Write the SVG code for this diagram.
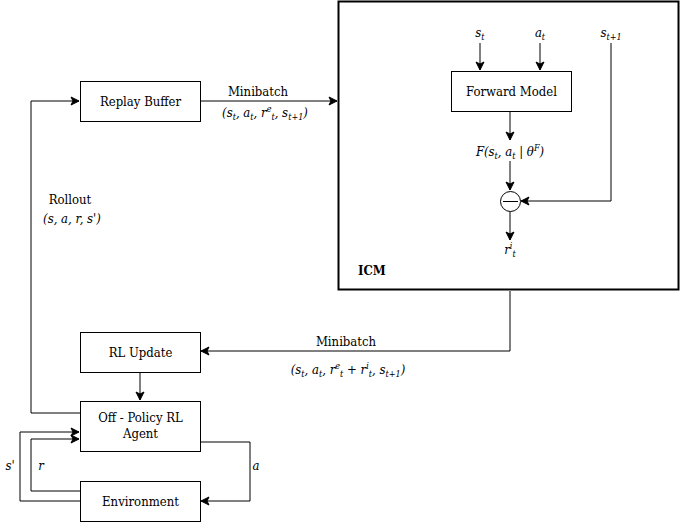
<svg xmlns="http://www.w3.org/2000/svg" width="684" height="522" viewBox="0 0 684 522">
<style>
.box{fill:#fff;stroke:#000;stroke-width:1}
.ln{fill:none;stroke:#000;stroke-width:1}
text{font-family:'DejaVu Serif Condensed','DejaVu Serif',serif;font-size:13px;fill:#000}
.i{font-style:italic}
.s{font-size:9px}
</style>
<defs>
<marker id="ah" markerWidth="10" markerHeight="10" refX="9" refY="5" orient="auto" markerUnits="userSpaceOnUse">
<path d="M1,1 L9,5 L1,9 L3,5 Z" fill="#000" stroke="#000" stroke-width="1"/>
</marker>
</defs>
<g id="connectors">
<path class="ln" d="M200,101 L337,101" marker-end="url(#ah)"/>
<path class="ln" d="M80,413 L31,413 L31,101 L79,101" marker-end="url(#ah)"/>
<path class="ln" d="M510,291 L510,351 L201,351" marker-end="url(#ah)"/>
<path class="ln" d="M140,372 L140,400" marker-end="url(#ah)"/>
<path class="ln" d="M80,501 L20,501 L20,432 L79,432" marker-end="url(#ah)"/>
<path class="ln" d="M80,491 L31,491 L31,439 L79,439" marker-end="url(#ah)"/>
<path class="ln" d="M200,442 L250,442 L250,501 L201,501" marker-end="url(#ah)"/>
<path class="ln" d="M480,43 L480,70" marker-end="url(#ah)"/>
<path class="ln" d="M540,43 L540,70" marker-end="url(#ah)"/>
<path class="ln" d="M510,111 L510,140" marker-end="url(#ah)"/>
<path class="ln" d="M510,161 L510,190" marker-end="url(#ah)"/>
<path class="ln" d="M611,43 L611,201 L521,201" marker-end="url(#ah)"/>
<path class="ln" d="M510,211 L510,240" marker-end="url(#ah)"/>
</g>
<g id="icm">
<rect x="338.5" y="1.5" width="340" height="288" fill="none" stroke="#000" stroke-width="2"/>
<text x="358" y="275" font-weight="bold">ICM</text>
</g>
<g id="replay-buffer">
<rect class="box" x="80.5" y="81.5" width="120" height="40"/>
<text x="140.5" y="106" text-anchor="middle">Replay Buffer</text>
</g>
<g id="forward-model">
<rect class="box" x="451.5" y="71.5" width="120" height="40"/>
<text x="511.5" y="96" text-anchor="middle">Forward Model</text>
</g>
<g id="minus">
<circle cx="510.5" cy="201.5" r="10" fill="#fff" stroke="#000" stroke-width="1"/>
<path class="ln" d="M503,201.5 L518,201.5"/>
</g>
<g id="rl-update">
<rect class="box" x="80.5" y="332.5" width="120" height="40"/>
<text x="140.5" y="357" text-anchor="middle">RL Update</text>
</g>
<g id="agent">
<rect class="box" x="80.5" y="401.5" width="120" height="50"/>
<text x="140.5" y="422" text-anchor="middle">Off - Policy RL</text>
<text x="140.5" y="438" text-anchor="middle">Agent</text>
</g>
<g id="environment">
<rect class="box" x="80.5" y="481.5" width="120" height="40"/>
<text x="140.5" y="506" text-anchor="middle">Environment</text>
</g>
<g id="labels">
<text x="258" y="96" text-anchor="middle">Minibatch</text>
<text class="i" x="265" y="117" text-anchor="middle">(s<tspan class="s" dy="3">t</tspan><tspan dy="-3">, a</tspan><tspan class="s" dy="3">t</tspan><tspan dy="-3">, r</tspan><tspan class="s" dy="-5">e</tspan><tspan class="s" dy="8">t</tspan><tspan dy="-3">, s</tspan><tspan class="s" dy="3">t+1</tspan><tspan dy="-3">)</tspan></text>
<text x="70" y="204" text-anchor="middle">Rollout</text>
<text class="i" x="72" y="223" text-anchor="middle">(s, a, r, s')</text>
<text x="346" y="346" text-anchor="middle">Minibatch</text>
<text class="i" x="348" y="374" text-anchor="middle">(s<tspan class="s" dy="3">t</tspan><tspan dy="-3">, a</tspan><tspan class="s" dy="3">t</tspan><tspan dy="-3">, r</tspan><tspan class="s" dy="-5">e</tspan><tspan class="s" dy="8">t</tspan><tspan dy="-3"> + r</tspan><tspan class="s" dy="-5">i</tspan><tspan class="s" dy="8">t</tspan><tspan dy="-3">, s</tspan><tspan class="s" dy="3">t+1</tspan><tspan dy="-3">)</tspan></text>
<text class="i" x="480" y="37" text-anchor="middle">s<tspan class="s" dy="3">t</tspan></text>
<text class="i" x="540" y="37" text-anchor="middle">a<tspan class="s" dy="3">t</tspan></text>
<text class="i" x="611" y="37" text-anchor="middle">s<tspan class="s" dy="3">t+1</tspan></text>
<text class="i" x="510" y="156" text-anchor="middle">F(s<tspan class="s" dy="3">t</tspan><tspan dy="-3">, a</tspan><tspan class="s" dy="3">t</tspan><tspan dy="-3"> | θ</tspan><tspan class="s" dy="-5">F</tspan><tspan dy="5">)</tspan></text>
<text class="i" x="510" y="254" text-anchor="middle">r<tspan class="s" dy="-5">i</tspan><tspan class="s" dy="8">t</tspan></text>
<text class="i" x="10" y="470" text-anchor="middle">s'</text>
<text class="i" x="41" y="470" text-anchor="middle">r</text>
<text class="i" x="256" y="470" text-anchor="middle">a</text>
</g>
</svg>
